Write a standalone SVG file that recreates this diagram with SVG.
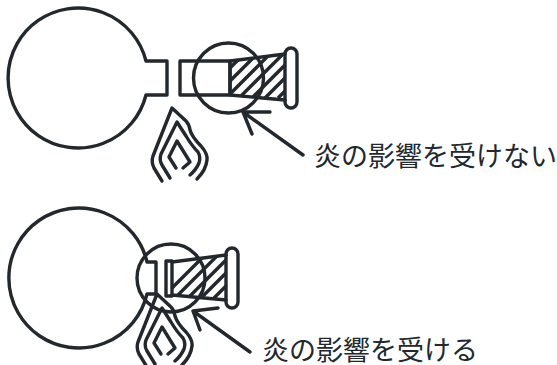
<svg xmlns="http://www.w3.org/2000/svg" width="557" height="365" viewBox="0 0 557 365">
<style>
.l{fill:none;stroke:#22282e;stroke-width:3.400;stroke-linecap:round;stroke-linejoin:round}
.h{fill:none;stroke:#22282e;stroke-width:3.400;stroke-linecap:butt}
.t{font-family:"Noto Sans CJK JP","Noto Sans",sans-serif;font-size:27px;fill:#22282e}
</style>
<defs>
<clipPath id="c1"><path d="M230 61L285 54V100L230 95Z"/></clipPath>
<clipPath id="c2"><path d="M172 262L226 255V300L172 295Z"/></clipPath>
<g id="fl" class="l"><path d="M162 181L154 168Q151 162 153 156L172 108L186 121Q189 124 190 130Q192 137 201 146Q208 154 207 160Q206 170 197 179"/><path d="M170 178L162 165Q159 160 161 154L177 122L186 136Q192 146 198 152Q201 157 199 163Q196 170 190 175"/><path d="M176 168L169 157L177 141L190 162L183 168"/></g>
</defs>
<g id="top-bulb"><path class="l" d="M146 61A70 70 0 1 0 146 95H167V61Z"/></g>
<g id="top-pipe"><path class="l" d="M230 61H180V95H230Z"/><path class="l" d="M230 61L285 54M230 95L285 100M230 61V95"/><rect class="l" x="285" y="48" width="12" height="60" rx="6"/><g clip-path="url(#c1)"><path class="h" d="M328 -30L200 98M341 -30L213 98M354 -30L226 98M367 -30L239 98M380 -30L252 98M393 -30L265 98M406 -30L278 98M419 -30L291 98"/></g></g>
<g id="top-circle"><circle class="l" cx="228.500" cy="78" r="35"/></g>
<g id="top-flame"><use href="#fl"/></g>
<g id="top-label"><text class="t" x="314" y="166">炎の影響を受けない</text></g>
<g id="bottom-bulb"><path class="l" d="M147 262A70 70 0 1 0 147 294H156V262Z"/></g>
<g id="bottom-pipe"><path class="l" d="M172 261H166V296H172Z"/><path class="l" d="M172 262L226 255M172 295L226 300"/><rect class="l" x="226" y="248" width="12" height="60" rx="6"/><g clip-path="url(#c2)"><path class="h" d="M460 0L160 300M473 0L173 300M486 0L186 300M499 0L199 300M512 0L212 300M525 0L225 300M538 0L238 300"/></g></g>
<g id="bottom-circle"><circle class="l" cx="171" cy="278" r="34"/></g>
<g id="bottom-flame"><use href="#fl" x="-15" y="186"/></g>
<g id="bottom-label"><text class="t" x="262" y="360">炎の影響を受ける</text></g>
<g id="connectors" class="l"><path d="M243 112H270M243 112L252 134M243 112L303 155"/><path d="M193 311L218 308M193 311L200 330M193 311L250 352"/></g>
</svg>
